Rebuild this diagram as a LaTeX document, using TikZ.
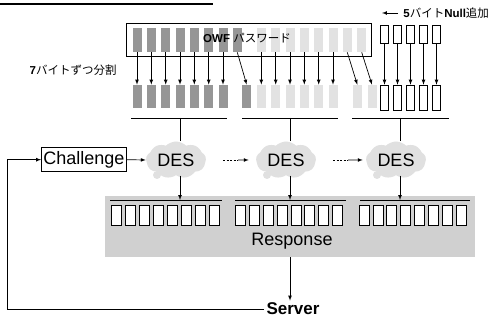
\documentclass[tikz,border=0pt]{standalone}
\usepackage{fontspec}
\setmainfont{Liberation Sans}
\newfontfamily\jpfont{Noto Sans CJK JP}
\usetikzlibrary{arrows, shapes.symbols, positioning}

\definecolor{darkbar}{RGB}{150,150,150}
\definecolor{lightbar}{RGB}{226,226,226}
\definecolor{panelgray}{RGB}{208,208,208}
\definecolor{cloudgray}{RGB}{224,224,224}

\begin{document}
\begin{tikzpicture}[>=latex, x=1pt, y=-1pt, line width=0.7pt,
  bar/.style={rectangle, minimum width=9, minimum height=24, inner sep=0},
  nullbox/.style={draw, fill=white, minimum width=8.5, minimum height=18, inner sep=0},
  respbox/.style={draw, fill=white, minimum width=10, minimum height=20, inner sep=0},
  desc/.style={cloud, cloud puffs=9, cloud puff arc=90, cloud ignores aspect,
    fill=cloudgray, minimum width=60, minimum height=37, inner sep=0,
    font=\fontsize{18}{20}\selectfont},
  big/.style={font=\fontsize{18}{20}\selectfont},
  small/.style={font=\fontsize{11.5}{13}\selectfont}]

\useasboundingbox (0,0) rectangle (492,320);

\draw[line width=1.2] (0,4) -- (213,4);

% password block, 7+1 dark and 8 light bytes
\node[draw, minimum width=245, minimum height=33, inner sep=0] (pwbox) at (248.5,39.5) {};
\foreach \x [count=\i] in {137,151.3,165.7,180,194.3,208.7,223,237.3}
  \node[bar, fill=darkbar] (t\i) at (\x,40) {};
\foreach \x [count=\i from 9] in {261.3,275.7,290,304.3,318.7,333,347.3,361.7}
  \node[bar, fill=lightbar] (t\i) at (\x,40) {};
\node[small] (pw) at (247,38) {\textbf{OWF} {\jpfont パスワード}};

\foreach \x [count=\i] in {384.5,397.5,410.5,423.5,436.5}
  \node[nullbox] (n\i) at (\x,34) {};

\node[small, anchor=west, inner sep=1] (nulllbl) at (402,13) {\textbf{5}{\jpfont バイト}\textbf{Null}{\jpfont 追加}};
\coordinate (nullarr) at (382,13);
\draw[->, shorten <=4] (nulllbl.west) -- (nullarr);

% split into 7 byte blocks
\foreach \x [count=\i] in {137,151.3,165.7,180,194.3,208.7,223,246.7}
  \node[bar, fill=darkbar, minimum height=23] (b\i) at (\x,96.5) {};
\foreach \x [count=\i from 9] in {261.3,275.7,290,304.3,318.7,333,357.3,372}
  \node[bar, fill=lightbar, minimum height=23] (b\i) at (\x,96.5) {};
\foreach \x [count=\i] in {384.5,397.5,410.5,423.5,436.5}
  \node[nullbox, minimum height=25] (m\i) at (\x,97.5) {};

\foreach \i in {1,...,16}
  \draw[->] (t\i.south) -- (b\i.north);
\foreach \i in {1,...,5}
  \draw[->] (n\i.south) -- (m\i.north);

\node[small, anchor=west] (splitlbl) at (26,70) {\textbf{7}{\jpfont バイトずつ分割}};

\draw (131,118) -- (227,118);
\draw (242,118) -- (338,118);
\draw (352,118) -- (449,118);

% DES stages
\node[draw, big, inner xsep=2, inner ysep=1, minimum height=24] (chal) at (84,159.7) {Challenge};
\foreach \x [count=\i] in {176,286,396} {
  \node[desc] (des\i) at (\x,160) {DES};
  \fill[cloudgray] ([shift={(-19,15)}]des\i.center) circle (4);
}

\coordinate (g1) at (180,118);
\coordinate (g2) at (290,118);
\coordinate (g3) at (400,118);
\foreach \i in {1,2,3}
  \draw (g\i) -- (g\i |- des\i.north);

\draw[->] (chal.east) -- (des1.west);
\coordinate (d1) at (223,160);
\coordinate (d2) at (238,160);
\coordinate (d3) at (333,160);
\coordinate (d4) at (348,160);
\draw[dash pattern=on 2pt off 1.5pt] (d1) -- (d2);
\draw[->, shorten >=7] (d2) -- (des2.west);
\draw[dash pattern=on 2pt off 1.5pt] (d3) -- (d4);
\draw[->, shorten >=3] (d4) -- (des3.west);

% response
\node[fill=panelgray, minimum width=370, minimum height=61, inner sep=0] (panel) at (290,226.5) {};
\foreach \s [count=\g] in {111.7,235.3,359}
  \foreach \k in {0,...,7}
    \node[respbox] (rb\g-\k) at ({\s+5+13.9*\k},215) {};
\draw (110,200) -- (222,200);
\draw (235,200) -- (346,200);
\draw (360,200) -- (470,200);
\node[big] (resp) at (292,241) {Response};

\coordinate (r1) at (180,200);
\coordinate (r2) at (290,200);
\coordinate (r3) at (400,200);
\foreach \i in {1,2,3}
  \draw[->] (r\i |- des\i.south) -- (r\i);

\node[font=\bfseries\fontsize{17}{19}\selectfont, inner sep=2] (server) at (293,309) {Server};
\draw[->] (panel.south) -- (panel.south |- server.north);

\coordinate (corner) at (7,309);
\draw[->] (server.west) -- (corner) |- (chal.west);

\end{tikzpicture}
\end{document}
